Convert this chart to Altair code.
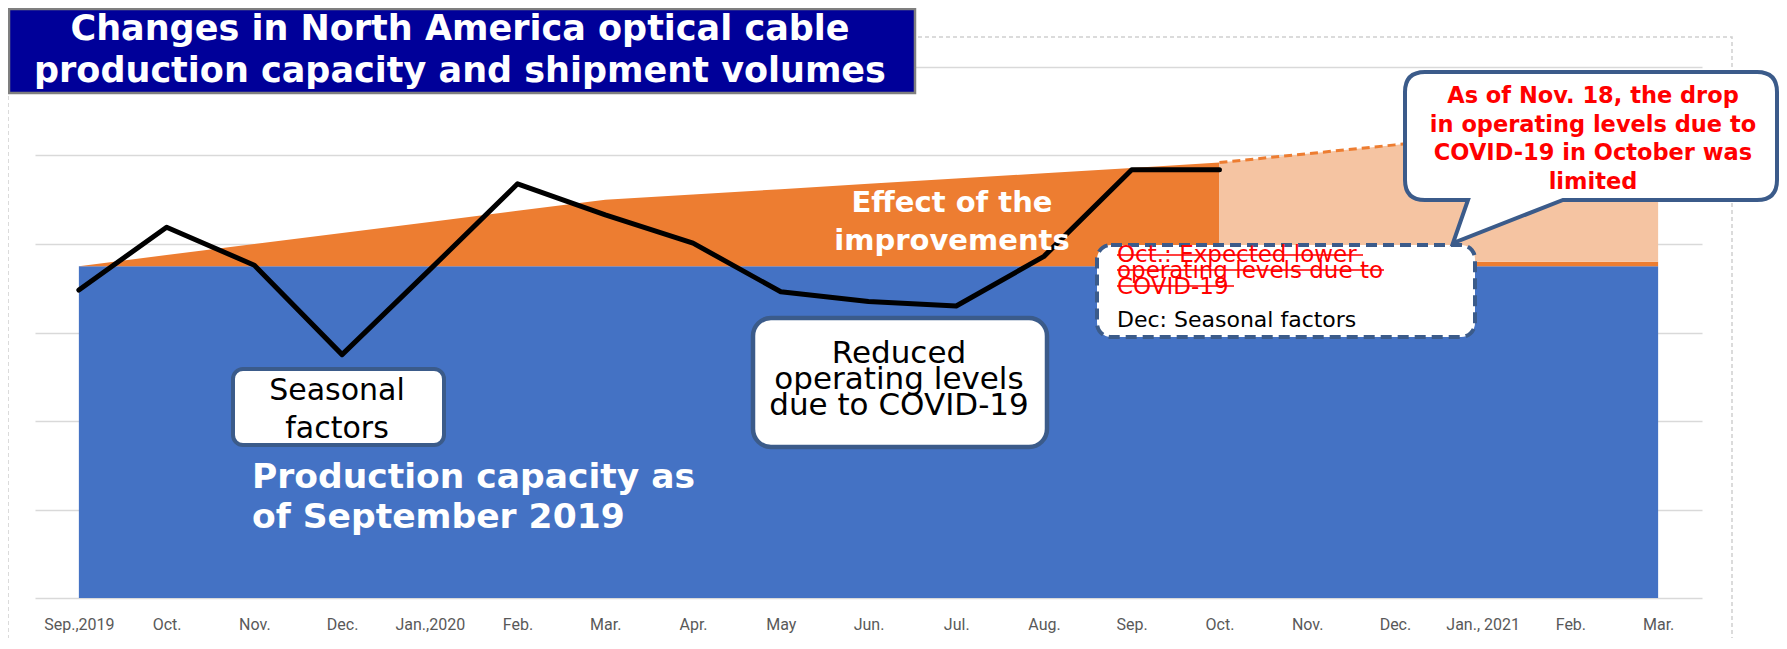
import json
import altair as alt
import pandas as pd

# ---------------- data ----------------
months = ["Sep.,2019", "Oct.", "Nov.", "Dec.", "Jan.,2020", "Feb.", "Mar.", "Apr.", "May",
          "Jun.", "Jul.", "Aug.", "Sep.", "Oct.", "Nov.", "Dec.", "Jan., 2021", "Feb.", "Mar."]
base_capacity = 3.75  # production capacity as of Sep 2019
# capacity incl. effect of improvements, Sep 2019 - Oct 2020
improved_capacity = [3.75, 3.875, 4.0, 4.125, 4.25, 4.375, 4.50, 4.56, 4.62, 4.68, 4.74, 4.80, 4.86, 4.92]
# projected capacity, Oct 2020 - Mar 2021
projected_capacity = [4.92, 5.02, 5.12, 5.22, 5.32, 5.42]
projected_floor = [3.80, 3.80, 3.80, 3.80, 3.80, 3.80]
# shipment volumes, Sep 2019 - Oct 2020
shipments = [3.48, 4.19, 3.76, 2.75, 3.71, 4.68, 4.33, 4.01, 3.46, 3.35, 3.30, 3.86, 4.84, 4.84]

n = len(months)
n_act = len(improved_capacity)
proj_idx = list(range(n_act - 1, n))

df_base = pd.DataFrame({"i": list(range(n)), "top": [base_capacity] * n, "bot": [0.0] * n})
df_impr = pd.DataFrame({"i": list(range(n_act)), "top": improved_capacity, "bot": [base_capacity] * n_act})
df_strip = pd.DataFrame({"i": proj_idx, "top": projected_floor, "bot": [base_capacity] * len(proj_idx)})
df_proj = pd.DataFrame({"i": proj_idx, "top": projected_capacity, "bot": projected_floor})
df_ship = pd.DataFrame({"i": list(range(len(shipments))), "top": shipments})
one = pd.DataFrame({"k": [0]})

# ---------------- styles ----------------
FONT = "DejaVu Sans"
BLUE = "#4472C4"
ORANGE = "#ED7D31"
PEACH = "#F5C4A2"
EDGE = "#3B5B8A"

label_expr = json.dumps(months) + "[datum.value]"
xs = alt.Scale(domain=[-0.5, n - 0.5], nice=False, zero=False)
ys = alt.Scale(domain=[0, 6], nice=False, zero=False)

x_axis = alt.Axis(values=list(range(n)), labelExpr=label_expr, grid=False, ticks=False, domain=False,
                  labelFont="Roboto", labelFontSize=16, labelFontWeight="normal",
                  labelColor="#595959", labelPadding=18, labelFlush=False, labelOverlap=False,
                  title=None)
y_axis = alt.Axis(values=[0, 1, 2, 3, 4, 5, 6], grid=True, labels=False, ticks=False, domain=False,
                  gridColor="#d9d9d9", gridWidth=1.5, title=None)

X = alt.X("i:Q", scale=xs, axis=x_axis)
Y = alt.Y("top:Q", scale=ys, axis=y_axis)


def area(df, color):
    return alt.Chart(df).mark_area(color=color, opacity=1, interpolate="linear").encode(
        x=X, y=Y, y2="bot:Q")


def rect(x1, y1, x2, y2, **kw):
    return alt.Chart(one).mark_rect(**kw).encode(
        x=alt.value(x1), x2=alt.value(x2), y=alt.value(y1), y2=alt.value(y2))


def text(x, y, lines, **kw):
    return alt.Chart(one).mark_text(text=lines, baseline="alphabetic", **kw).encode(
        x=alt.value(x), y=alt.value(y))


def strike(x1, x2, y):
    return alt.Chart(one).mark_rule(color="#FF0000", strokeWidth=1.6).encode(
        x=alt.value(x1), x2=alt.value(x2), y=alt.value(y))


frame = rect(-27, -30, 1697, 640, fill=None, fillOpacity=0, stroke="#cfcfcf", strokeWidth=1.5,
             strokeDash=[4, 3])

blue = area(df_base, BLUE)
impr = area(df_impr, ORANGE)
strip = area(df_strip, ORANGE)
proj = area(df_proj, PEACH)
proj_line = alt.Chart(df_proj).mark_line(color=ORANGE, strokeWidth=3, strokeDash=[8, 5]).encode(
    x=X, y=Y)
ship = alt.Chart(df_ship).mark_line(color="black", strokeWidth=5, strokeJoin="round",
                                    strokeCap="round").encode(x=X, y=Y)

effect = text(917, 145, ["Effect of the", "improvements"], font=FONT, fontWeight="bold",
              fontSize=29, lineHeight=38, color="white", align="center")
prod = text(217, 421, ["Production capacity as", "of September 2019"], font=FONT,
            fontWeight="bold", fontSize=34.5, lineHeight=40, color="white", align="left")

seas_box = rect(198, 302, 409, 378, fill="white", stroke=EDGE, strokeWidth=4, cornerRadius=10)
seas_txt = text(302, 333, ["Seasonal", "factors"], font=FONT, fontSize=30, lineHeight=38,
                color="black", align="center")

red_box = rect(718, 251, 1012, 380, fill="white", stroke=EDGE, strokeWidth=4.5, cornerRadius=18)
red_txt = text(864, 296, ["Reduced", "operating levels", "due to COVID-19"], font=FONT,
               fontSize=31, lineHeight=26, color="black", align="center")

dash_box = rect(1062, 178, 1440, 270, fill="white", stroke=EDGE, strokeWidth=4, cornerRadius=14,
                strokeDash=[11, 6])
oct_txt = text(1082, 195, ["Oct.: Expected lower", "operating levels due to", "COVID-19"],
               font=FONT, fontSize=23, lineHeight=16, color="#FF0000", align="left")
s1 = strike(1082, 1328, 188)
s2 = strike(1082, 1349, 203)
s3 = strike(1082, 1199, 219)
dec_txt = text(1082, 260, ["Dec: Seasonal factors"], font=FONT, fontSize=22, color="black",
               align="left")

callout_path = ("M1390,5 L1722,5 Q1742,5 1742,25 L1742,113 Q1742,133 1722,133 L1528,133 "
                "L1418,176 L1433,133 L1390,133 Q1370,133 1370,113 L1370,25 Q1370,5 1390,5 Z")
callout = alt.Chart(one).mark_point(shape=callout_path, size=4, filled=True, fill="white",
                                    opacity=1, fillOpacity=1, stroke=EDGE, strokeWidth=4,
                                    strokeOpacity=1).encode(x=alt.value(0), y=alt.value(0))
callout_txt = text(1558, 36, ["As of Nov. 18, the drop", "in operating levels due to",
                              "COVID-19 in October was", "limited"],
                   font=FONT, fontWeight="bold", fontSize=22.5, lineHeight=28.7, color="#FF0000",
                   align="center")

title_box = rect(-26, -58, 880, 26, fill="#000099", stroke="#7f7f7f", strokeWidth=2.5)
title_txt = text(425, -27, ["Changes in North America optical cable",
                            "production capacity and shipment volumes"],
                 font=FONT, fontWeight="bold", fontSize=35, lineHeight=42, color="white",
                 align="center")

chart = alt.layer(
    frame, blue, impr, strip, proj, proj_line, ship, effect, prod,
    seas_box, seas_txt, red_box, red_txt, dash_box, oct_txt, s1, s2, s3, dec_txt,
    callout, callout_txt, title_box, title_txt,
).properties(
    width=1667, height=531,
    padding={"left": 27, "top": 59, "right": 77, "bottom": 40},
    autosize=alt.AutoSizeParams(type="none"),
    background="white",
).configure_view(stroke=None)

chart.save("out.html", embed_options={"renderer": "svg", "actions": False})
